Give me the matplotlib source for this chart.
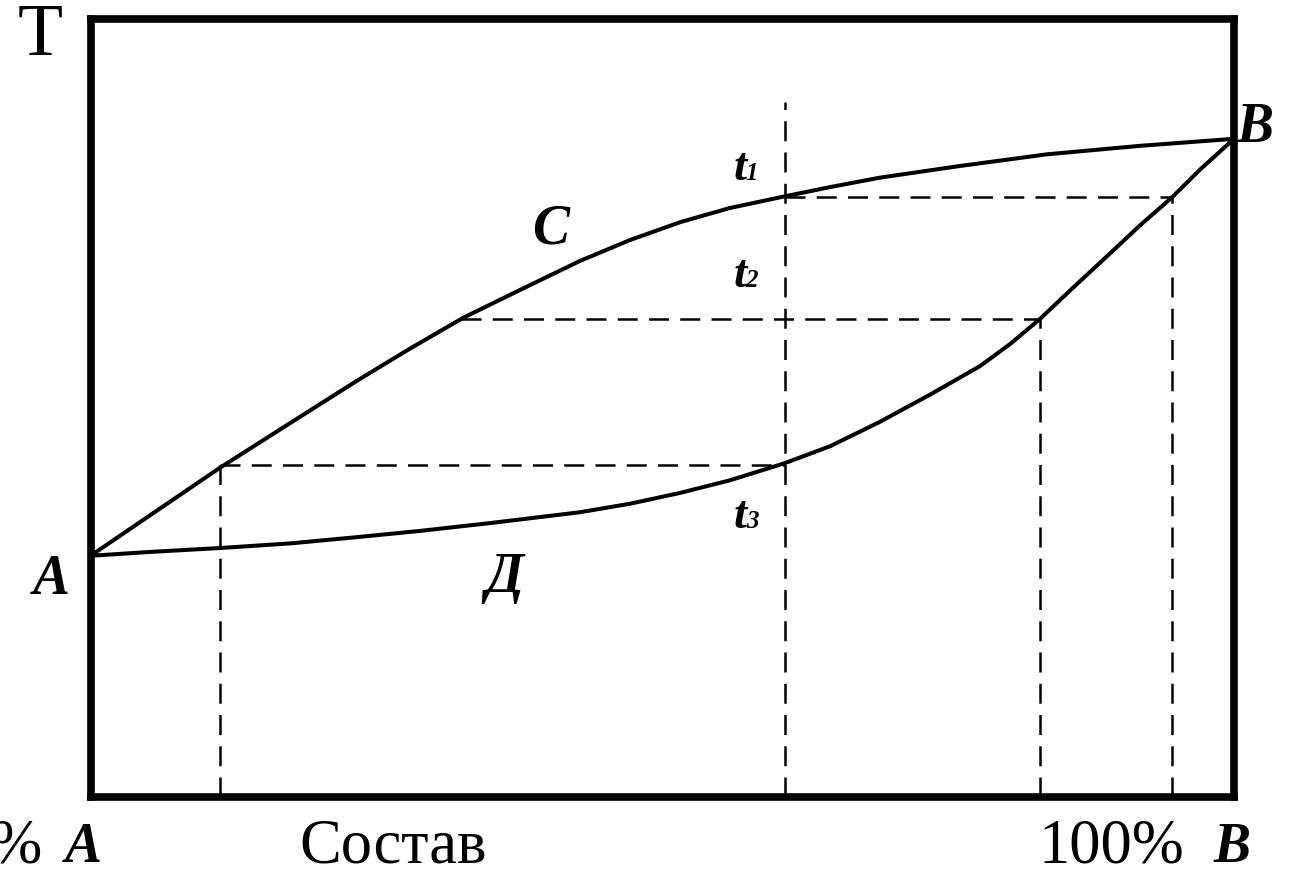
import matplotlib
matplotlib.use("Agg")
import matplotlib.pyplot as plt

# composition (% B) vs temperature (arbitrary units, 0-100)
liquidus_x = [0, 5.2, 11.3, 17.5, 23.3, 27.9, 32.6, 37.6, 42.8, 47.2, 51.6, 55.9,
              60.7, 64.7, 69.0, 76.0, 83.6, 91.8, 100]
liquidus_y = [31.0, 36.2, 42.3, 48.1, 53.5, 57.6, 61.6, 65.2, 68.9, 71.6, 73.9, 75.7,
              77.2, 78.4, 79.6, 81.1, 82.6, 83.7, 84.6]

solidus_x = [0, 5.2, 11.3, 17.5, 23.3, 28.8, 34.9, 42.8, 47.2, 51.6, 55.9, 60.7,
             64.7, 69.0, 73.4, 77.8, 80.4, 83.0, 86.1, 89.4, 91.8, 94.6, 97.0, 100]
solidus_y = [31.0, 31.5, 32.0, 32.6, 33.4, 34.2, 35.2, 36.6, 37.7, 39.1, 40.7, 42.9,
             45.1, 48.2, 51.7, 55.4, 58.2, 61.4, 65.7, 70.2, 73.5, 77.1, 80.6, 84.6]

# isotherms t1, t2, t3: (temperature, liquid composition, solid composition)
iso_names = ["1", "2", "3"]
iso_t = [77.1, 61.4, 42.7]
iso_left = [60.7, 32.4, 11.3]
iso_right = [94.6, 83.0, 60.7]
alloy_x = 60.7
alloy_top = 89.3

serif = "Liberation Serif"
bi = dict(family=serif, weight="bold", style="italic")

fig = plt.figure(figsize=(12.98, 8.69), dpi=100)
ax = fig.add_axes([90.5 / 1298, 72 / 869, 1143.5 / 1298, 778 / 869])
ax.set_xlim(0, 100)
ax.set_ylim(0, 100)
ax.set_xticks([])
ax.set_yticks([])
for s in ax.spines.values():
    s.set_linewidth(5.5)

dash = dict(color="black", lw=1.8, dashes=(8, 4.5))

# vertical line of the alloy
ax.plot([alloy_x, alloy_x], [0, alloy_top], **dash)
for i in range(len(iso_t)):
    ax.plot([iso_left[i], iso_right[i]], [iso_t[i], iso_t[i]], **dash)
ax.plot([iso_right[0], iso_right[0]], [0, iso_t[0]], **dash)
ax.plot([iso_right[1], iso_right[1]], [0, iso_t[1]], **dash)
ax.plot([iso_left[2], iso_left[2]], [0, iso_t[2]], **dash)

ax.plot(liquidus_x, liquidus_y, color="black", lw=2.9, solid_joinstyle="round",
        solid_capstyle="round", zorder=5)
ax.plot(solidus_x, solidus_y, color="black", lw=2.9, solid_joinstyle="round",
        solid_capstyle="round", zorder=5)

# labels
ax.text(-4.4, 97.7, "T", family=serif, fontsize=53, ha="center", va="center", clip_on=False)
ax.text(101.8, 86.0, "B", fontsize=40, ha="center", va="center", clip_on=False, **bi)
ax.text(-3.4, 27.9, "A", fontsize=40, ha="center", va="center", clip_on=False, **bi)
ax.text(40.2, 72.9, "C", fontsize=40, ha="center", va="center", **bi)
ax.text(36.2, 28.1, "Д", fontsize=40, ha="center", va="center", **bi)

t_base = [79.3, 65.6, 34.6]
for name, yb in zip(iso_names, t_base):
    ax.text(57.4, yb, "t", fontsize=34, ha="right", va="baseline", **bi)
    ax.text(57.3, yb, name, fontsize=18, ha="left", va="baseline", **bi)

yb = -8.4
ax.text(-4.15, yb, "0%", family=serif, fontsize=45, ha="right", va="baseline", clip_on=False)
ax.text(-0.66, yb, "A", fontsize=40, ha="center", va="baseline", clip_on=False, **bi)
ax.text(26.5, yb, "Состав", family=serif, fontsize=45, ha="center", va="baseline", clip_on=False)
ax.text(89.3, yb, "100%", family=serif, fontsize=45, ha="center", va="baseline", clip_on=False)
ax.text(99.8, yb, "B", fontsize=40, ha="center", va="baseline", clip_on=False, **bi)

fig.savefig("out.png", dpi=100)
